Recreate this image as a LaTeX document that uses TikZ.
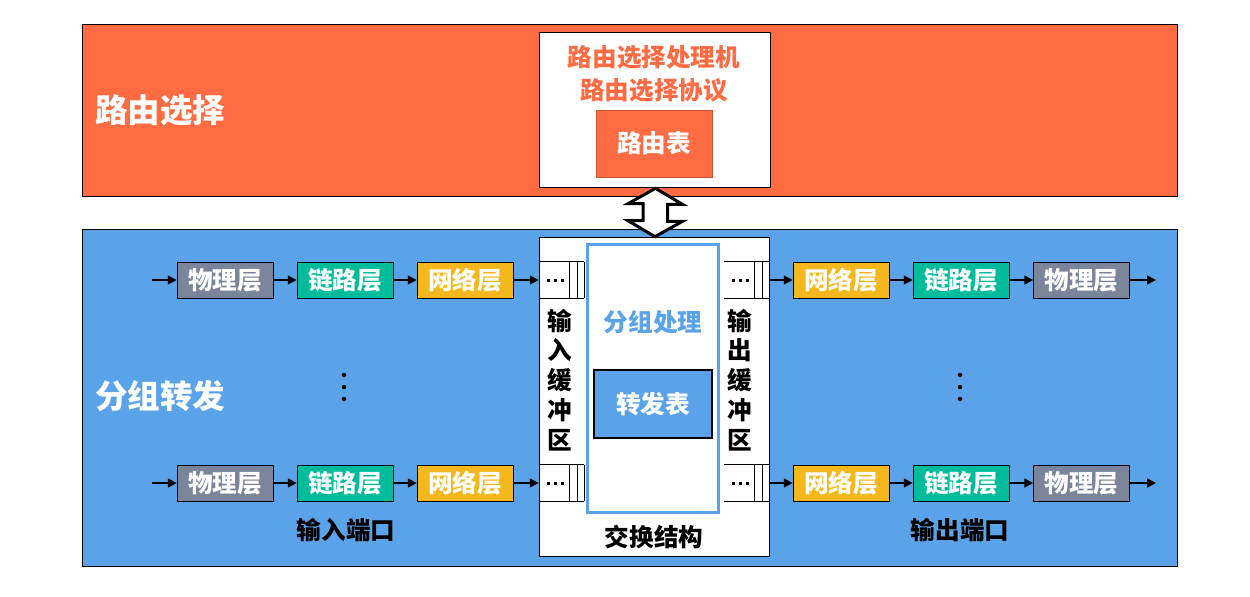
\documentclass[tikz,border=0pt]{standalone}
\usepackage{fontspec}
\setmainfont{Noto Sans CJK SC}
\usetikzlibrary{arrows.meta,calc}

\definecolor{routeorange}{RGB}{255,107,66}
\definecolor{routedark}{RGB}{205,85,50}
\definecolor{fwdblue}{RGB}{91,163,232}
\definecolor{phygray}{RGB}{122,133,153}
\definecolor{linkteal}{RGB}{0,188,154}
\definecolor{netyellow}{RGB}{245,184,28}

\begin{document}
\begin{tikzpicture}[
          x=0.02cm, y=-0.02cm,
          lab/.style={font=\fontsize{14}{17}\selectfont\bfseries, inner sep=0pt},
          title/.style={font=\fontsize{18.5}{22}\selectfont\bfseries, text=white, anchor=west},
          layer/.style={lab, draw=black, thin, minimum width=1.92cm, minimum height=0.72cm, text=white},
          phy/.style={layer, fill=phygray},
          lnk/.style={layer, fill=linkteal},
          net/.style={layer, fill=netyellow},
          flow/.style={-{Triangle[length=5pt,width=5pt]}, line width=1.1pt},
          bufbox/.style={minimum width=0.9cm, minimum height=0.72cm, inner sep=0pt}
        ]
        % pixel grid of the reference, y downwards
        \useasboundingbox (0,0) rectangle (1250,596);
        \draw[fill=routeorange] (82,24) rectangle (1177,196);
        \draw[fill=fwdblue] (82,229) rectangle (1177,566);

        \node[title] (routetitle) at (89,110) {路由选择};
        \node[title] (fwdtitle) at (89,396) {分组转发};

        % routing processor
        \node[draw, fill=white, minimum width=4.62cm, minimum height=3.1cm] (route) at (654.5,109.5) {};
        \node[lab, text=routeorange, align=center] (routetxt) at (654,74)
            {路由选择处理机\\[1.7pt]路由选择协议};
        \node[lab, draw=routedark, thin, fill=routeorange, text=white,
            minimum width=2.32cm, minimum height=1.34cm] (routetab) at (654,143.5) {路由表};

        % switch fabric
        \node[draw, fill=white, minimum width=4.6cm, minimum height=6.38cm] (fabric) at (654,396.5) {};
        \node[draw=fwdblue, line width=1.7pt, fill=white,
            minimum width=2.62cm, minimum height=5.36cm] (pproc) at (653,378.5) {};
        \node[lab, text=fwdblue] (pproctxt) at (653,322) {分组处理};
        \node[lab, draw, line width=1.1pt, fill=fwdblue, text=white,
            minimum width=2.36cm, minimum height=1.36cm] (fwdtab) at (653,404) {转发表};
        \node[lab] (fabrictxt) at (654,537) {交换结构};
        \node[lab, align=center] (inbuftxt) at (560,380) {输\\入\\缓\\冲\\区};
        \node[lab, align=center] (outbuftxt) at (740,380) {输\\出\\缓\\冲\\区};

        % double arrow between routing and forwarding
        \draw[line width=1.7pt, fill=white, line join=miter]
            ($(route.south)+(1,1)$) -- ++(27,16) -- ++(-15,0) -- ++(0,17) -- ++(15,0)
            -- ($(fabric.north)+(1,0)$) -- ++(-27,-16) -- ++(15,0) -- ++(0,-17) -- ++(-15,0) -- cycle;

        % buffers
        \foreach \n/\x/\y in {bufA/561.5/280, bufB/561.5/483, obufA/746.5/280, obufB/746.5/483} {
          \node[bufbox] (\n) at (\x,\y) {};
          \foreach \d in {-13.5,-6.5,0.5}
            \fill ($(\n.center)+(\d,0)+(-1.5,-1.5)$) rectangle ++(3,3);
          \draw (\n.north west) -- (\n.north east) (\n.south west) -- (\n.south east);
          \foreach \s in {0,7.5,15}
            \draw ($(\n.north east)+(-\s,0)$) -- ($(\n.south east)+(-\s,0)$);
        }

        % ports
        \foreach \r/\y in {A/280, B/483} {
          \node[phy] (phy\r) at (225,\y) {物理层};
          \node[lnk] (link\r) at (345,\y) {链路层};
          \node[net] (net\r) at (465,\y) {网络层};
          \node[net] (onet\r) at (841,\y) {网络层};
          \node[lnk] (olink\r) at (961,\y) {链路层};
          \node[phy] (ophy\r) at (1081.5,\y) {物理层};
          \coordinate (in\r) at (152,\y);
          \coordinate (out\r) at (1156,\y);
          \draw[flow] (in\r) -- (phy\r);
          \draw[flow] (phy\r) -- (link\r);
          \draw[flow] (link\r) -- (net\r);
          \draw[flow] (net\r) -- (buf\r.west);
          \draw[flow] (obuf\r.east) -- (onet\r);
          \draw[flow] (onet\r) -- (olink\r);
          \draw[flow] (olink\r) -- (ophy\r);
          \draw[flow] (ophy\r) -- (out\r);
        }

        \foreach \x in {344,960}
          \foreach \y in {375,387,399}
            \fill (\x,\y) circle (2.2);

        \node[lab] (inporttxt) at (346,530) {输入端口};
        \node[lab] (outporttxt) at (960,530) {输出端口};
      \end{tikzpicture}
\end{document}
